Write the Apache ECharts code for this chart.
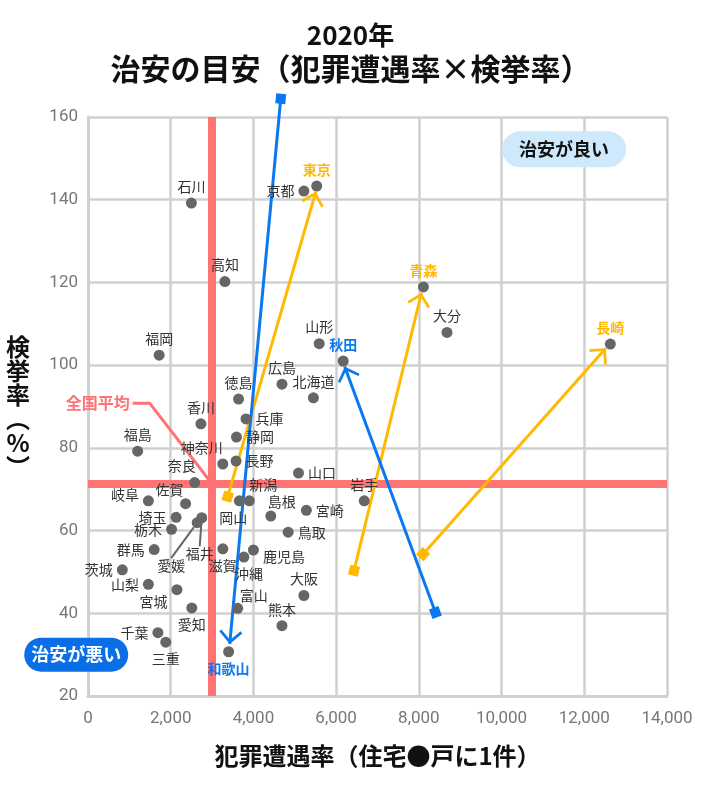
<!DOCTYPE html>
<html>
<head>
<meta charset="utf-8">
<script src="https://cdn.jsdelivr.net/npm/echarts@6/dist/echarts.min.js"></script>
<style>
  html, body { margin: 0; padding: 0; background: #fff; }
  #chart { width: 701px; height: 793px; }
</style>
</head>
<body>
<div id="chart"></div>
<script>
// 都道府県ごとの犯罪遭遇率（住宅●戸に1件）と検挙率（%）
const prefs = ['石川', '京都', '東京', '高知', '青森', '大分', '長崎', '秋田', '山形', '広島',
  '北海道', '山口', '岩手', '宮崎', '島根', '鳥取', '大阪', '熊本', '福岡', '徳島',
  '香川', '兵庫', '静岡', '福島', '神奈川', '長野', '奈良', '新潟', '岡山', '岐阜',
  '佐賀', '埼玉', '福井', '愛媛', '栃木', '群馬', '滋賀', '鹿児島', '沖縄', '茨城',
  '山梨', '宮城', '愛知', '富山', '千葉', '三重', '和歌山']
const crimeRate = [2500, 5220, 5530, 3310, 8110, 8680, 12630, 6170, 5590, 4690,
  5450, 5090, 6680, 5280, 4420, 4840, 5220, 4690, 1720, 3640,
  2730, 3820, 3590, 1200, 3260, 3580, 2580, 3900, 3660, 1460,
  2360, 2130, 2750, 2640, 2020, 1600, 3260, 4000, 3770, 830,
  1460, 2150, 2510, 3620, 1690, 1880, 3400]
const arrestRate = [139.2, 142.1, 143.3, 120.2, 118.9, 107.9, 105.1, 101.0, 105.2, 95.4,
  92.1, 73.9, 67.2, 64.9, 63.5, 59.6, 44.3, 37.0, 102.4, 91.8,
  85.8, 87.0, 82.6, 79.2, 76.1, 76.8, 71.6, 67.2, 67.2, 67.2,
  66.5, 63.2, 63.1, 61.9, 60.3, 55.4, 55.6, 55.3, 53.6, 50.5,
  47.0, 45.7, 41.3, 41.2, 35.3, 33.0, 30.7]

// 全国平均
const avgCrime = 3000
const avgArrest = 71.3

// 変化の矢印（始点 → 現在）
const upNames = ['東京', '青森', '長崎']
const upFrom = [[3378, 68.2], [6433, 50.3], [8102, 54.3]]
const upTo = [[5507, 141.9], [8063, 117.5], [12520, 104.1]]
const downNames = ['秋田', '和歌山']
const downFrom = [[8401, 40.2], [4660, 164.4]]
const downTo = [[6208, 99.6], [3427, 32.6]]

const xTicks = [0, 2000, 4000, 6000, 8000, 10000, 12000, 14000]
const yTicks = [20, 40, 60, 80, 100, 120, 140, 160]

// 注記
const avgNotePath = [[1080, 90.8], [1490, 90.8], [2960, 71.8]]
const goodNote = [11512, 152.2]
const badNote = [-285, 30.0]

const ORANGE = '#ffb900'
const BLUE = '#0a78f0'
const RED = '#ff7373'
const JP = '"Noto Sans CJK JP", "Noto Sans", sans-serif'
const CHEVRON = 'path://M0,-14 M-14,0 M14,0 M0,0 L12,12 L10,14 L0,4 L-10,14 L-12,12 Z'

// ラベル位置 [position, dx, dy]
const labelPlace = {
  '京都': ['left', 0, 0], '島根': ['top', 11, 2], '神奈川': ['top', -21, 0], '奈良': ['top', -13, 0],
  '新潟': ['top', 14, 0], '岡山': ['bottom', -6, 0], '岐阜': ['left', 0, -6], '佐賀': ['top', -16, 2],
  '埼玉': ['left', 0, 0], '栃木': ['left', 0, 0], '群馬': ['left', 0, 0], '茨城': ['left', 0, 0],
  '山梨': ['left', 0, 0], '千葉': ['left', 0, 0], '宮城': ['left', 0, 12], '愛知': ['bottom', 0, 0],
  '三重': ['bottom', 0, 0], '和歌山': ['bottom', 0, 0], '滋賀': ['bottom', 0, 0], '沖縄': ['bottom', 5, 0],
  '富山': ['top', 16, 4], '鹿児島': ['right', 0, 7], '山口': ['right', 0, 0], '宮崎': ['right', 0, 0],
  '鳥取': ['right', 0, 0], '兵庫': ['right', 0, 0], '静岡': ['right', 0, 0], '長野': ['right', 0, 0],
  '福井': ['bottom', -2, 19], '愛媛': ['bottom', -26, 26]
}
const guided = ['福井', '愛媛']

const points = prefs.map((name, i) => {
  const p = labelPlace[name] || ['top', 0, 0]
  let color = '#333'
  if (upNames.includes(name)) color = ORANGE
  if (downNames.includes(name)) color = BLUE
  return {
    name,
    value: [crimeRate[i], arrestRate[i]],
    label: { position: p[0], color, fontWeight: color === '#333' ? 'normal' : 'bold' },
    labelLine: { show: guided.includes(name) }
  }
})

const chart = echarts.init(document.getElementById('chart'))
chart.setOption({
  animation: false,
  title: [
    { text: '2020年', left: 'center', top: 17, textStyle: { fontFamily: JP, fontSize: 26, fontWeight: 'bold', color: '#111' } },
    { text: '治安の目安（犯罪遭遇率×検挙率）', left: 'center', top: 49, textStyle: { fontFamily: JP, fontSize: 30, fontWeight: 'bold', color: '#111' } }
  ],
  grid: { left: 88, top: 117, right: 34, bottom: 97 },
  xAxis: {
    type: 'value', min: xTicks[0], max: xTicks[xTicks.length - 1], interval: 2000,
    name: '犯罪遭遇率（住宅●戸に1件）', nameLocation: 'middle', nameGap: 48,
    nameTextStyle: { fontFamily: JP, fontSize: 24, fontWeight: 'bold', color: '#111' },
    axisLine: { show: true, lineStyle: { color: '#d0d0d0', width: 3 } },
    axisTick: { show: false },
    axisLabel: { margin: 14, fontFamily: 'Roboto', fontSize: 17, color: '#777',
      formatter: v => v.toLocaleString('en-US') },
    splitLine: { lineStyle: { color: '#d0d0d0', width: 2.5 } }
  },
  yAxis: {
    type: 'value', min: yTicks[0], max: yTicks[yTicks.length - 1], interval: 20,
    name: '検\n挙\n率\n︵\n%\n︶', nameLocation: 'middle', nameGap: 70, nameRotate: 0,
    nameTextStyle: { fontFamily: JP, fontSize: 24, fontWeight: 'bold', color: '#111',
      align: 'center', verticalAlign: 'middle', lineHeight: 24 },
    axisLine: { show: true, lineStyle: { color: '#d0d0d0', width: 3 } },
    axisTick: { show: false },
    axisLabel: { margin: 10, fontFamily: 'Roboto', fontSize: 17, color: '#777' },
    splitLine: { lineStyle: { color: '#d0d0d0', width: 2.5 } }
  },
  series: [
    {
      type: 'line', z: 1, silent: true, data: [],
      markLine: {
        z: 1, silent: true, symbol: 'none', label: { show: false },
        lineStyle: { color: RED, width: 8, type: 'solid' },
        data: [{ xAxis: avgCrime }, { yAxis: avgArrest }]
      }
    },
    {
      type: 'line', z: 2, silent: true, symbol: 'none',
      data: avgNotePath,
      lineStyle: { color: RED, width: 3 }
    },
    {
      type: 'lines', coordinateSystem: 'cartesian2d', z: 3, clip: false, silent: true,
      symbol: ['rect', CHEVRON], symbolSize: [10, 27],
      lineStyle: { color: ORANGE, width: 3, opacity: 1 },
      data: upFrom.map((f, i) => ({ coords: [f, upTo[i]] }))
    },
    {
      type: 'lines', coordinateSystem: 'cartesian2d', z: 3, clip: false, silent: true,
      symbol: ['rect', CHEVRON], symbolSize: [10, 27],
      lineStyle: { color: BLUE, width: 3, opacity: 1 },
      data: downFrom.map((f, i) => ({ coords: [f, downTo[i]] }))
    },
    {
      type: 'scatter', z: 4, symbolSize: 11,
      itemStyle: { color: '#666', opacity: 1 },
      label: { show: true, formatter: '{b}', distance: 4, fontFamily: JP, fontSize: 14 },
      labelLine: { show: false, lineStyle: { color: '#666', width: 2 } },
      labelLayout: params => {
        const p = labelPlace[prefs[params.dataIndex]]
        return p ? { dx: p[1], dy: p[2] } : {}
      },
      data: points
    },
    {
      type: 'scatter', z: 5, symbolSize: 0, clip: false, silent: true,
      itemStyle: { opacity: 1 },
      label: { show: true, position: 'inside', formatter: '{b}', fontFamily: JP, fontSize: 18, fontWeight: 'bold' },
      data: [
        { name: '治安が良い', value: goodNote,
          label: { color: '#111', backgroundColor: '#cde9fb', borderRadius: 19, padding: [9, 17] } },
        { name: '治安が悪い', value: badNote,
          label: { color: '#fff', backgroundColor: '#0a6fe6', borderRadius: 18, padding: [8, 7] } },
        { name: '全国平均', value: avgNotePath[0],
          label: { position: 'left', distance: 3, color: RED, fontSize: 16 } }
      ]
    }
  ]
})
</script>
</body>
</html>
